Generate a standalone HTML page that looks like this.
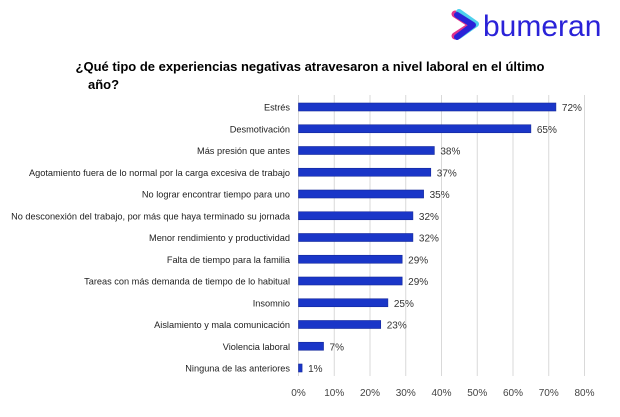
<!DOCTYPE html>
<html><head><meta charset="utf-8"><style>
body{margin:0;background:#fff;width:620px;height:412px;overflow:hidden;font-family:"Liberation Sans",sans-serif}
</style></head><body>
<svg width="620" height="412" xmlns="http://www.w3.org/2000/svg">
<g>
<path d="M455 14 L472 25 L455 36" fill="none" stroke="#e0338c" stroke-width="7" stroke-linecap="round" stroke-linejoin="round"/>
<path d="M459 12 L476 24 L459 36" fill="none" stroke="#22c6e8" stroke-width="6" stroke-linecap="round" stroke-linejoin="round" opacity="0.8"/>
<path d="M457 15 L473 25 L457 37" fill="none" stroke="#2a22d8" stroke-width="6" stroke-linecap="round" stroke-linejoin="round"/>
<text x="483" y="36" font-size="30" fill="#2a22d8">bumeran</text>
</g>
<text x="310" y="71" font-size="13" font-weight="bold" text-anchor="middle" fill="#000">¿Qué tipo de experiencias negativas atravesaron a nivel laboral en el último</text>
<text x="88" y="89" font-size="13" font-weight="bold" fill="#000">año?</text>
<g id="grid"></g><g id="bars"></g><g id="ticks"></g>
</svg>
<script>
const categories=["Estrés","Desmotivación","Más presión que antes","Agotamiento fuera de lo normal por la carga excesiva de trabajo","No lograr encontrar tiempo para uno","No desconexión del trabajo, por más que haya terminado su jornada","Menor rendimiento y productividad","Falta de tiempo para la familia","Tareas con más demanda de tiempo de lo habitual","Insomnio","Aislamiento y mala comunicación","Violencia laboral","Ninguna de las anteriores"];
const values=[72,65,38,37,35,32,32,29,29,25,23,7,1];
const tickValues=[0,10,20,30,40,50,60,70,80];
const NS="http://www.w3.org/2000/svg";
const x=v=>298.5+v*3.575;
const y=i=>107+i*21.75;
function mk(t,a,p,txt){const e=document.createElementNS(NS,t);for(const k in a)e.setAttribute(k,a[k]);if(txt!==undefined)e.textContent=txt;document.getElementById(p).appendChild(e);return e;}
tickValues.forEach(t=>{
 const g=mk('line',{x1:x(t),x2:x(t),y1:95,y2:376,stroke:'#d9d9d9','stroke-width':1},'grid');
 
 
 const l=mk('text',{x:x(t),y:396,'font-size':10,'text-anchor':'middle',fill:'#444'},'ticks',t+'%');
 
 
});
categories.forEach((c,i)=>{
 const cy=y(i);
 const lb=mk('text',{x:290,y:cy+3.5,'font-size':9.2,'text-anchor':'end',fill:'#222'},'bars',c);
 
 
 const b=mk('rect',{x:x(0),y:cy-4,width:x(values[i])-x(0),height:8,fill:'#1a36c8',stroke:'#14289a','stroke-width':0.6},'bars');
 
 
 const v=mk('text',{x:x(values[i])+6,y:cy+4,'font-size':10,fill:'#333'},'bars',values[i]+'%');
 
 
});
</script>
</body></html>
